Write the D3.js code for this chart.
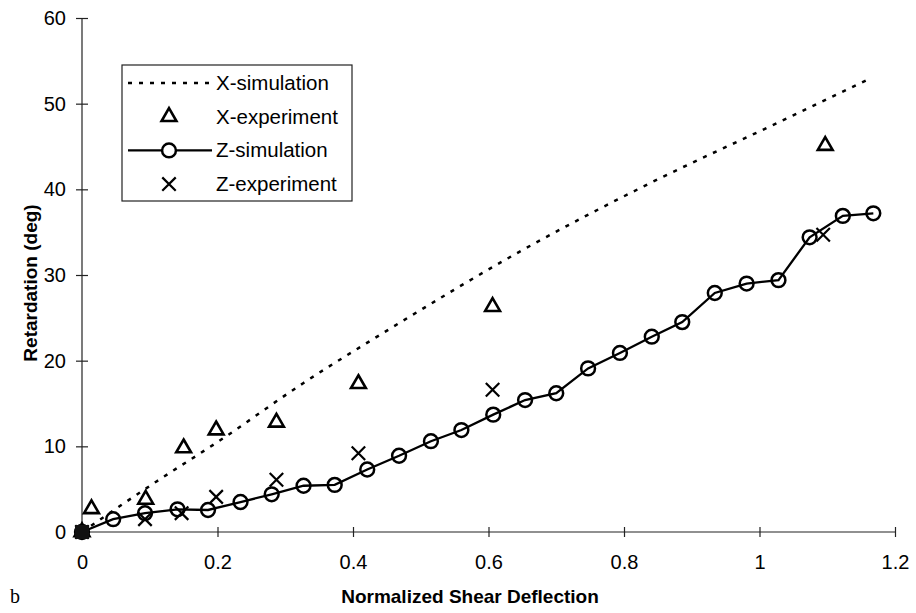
<!DOCTYPE html>
<html>
<head>
<meta charset="utf-8">
<script src="https://cdn.jsdelivr.net/npm/d3@7"></script>
<style>
  body { margin: 0; background: #fff; }
  text { font-family: "Liberation Sans", Arial, sans-serif; fill: #000; }
</style>
</head>
<body>
<div id="chart"></div>
<script>
// data
var xSimX = [0, 0.11, 0.2, 0.327, 0.452, 0.641, 0.843, 1.025, 1.165];
var xSimY = [0, 5.9, 10.5, 17.4, 23.6, 32.5, 40.9, 47.7, 53];

var xExpX = [0, 0.014, 0.094, 0.15, 0.198, 0.287, 0.408, 0.606, 1.097];
var xExpY = [0, 2.7, 3.8, 9.8, 11.9, 12.8, 17.3, 26.3, 45.1];

var zSimX = [0, 0.046, 0.093, 0.141, 0.186, 0.234, 0.28, 0.327, 0.373, 0.421, 0.468, 0.515, 0.56, 0.607,
             0.654, 0.7, 0.747, 0.794, 0.841, 0.886, 0.934, 0.981, 1.028, 1.074, 1.123, 1.168];
var zSimY = [0, 1.5, 2.2, 2.65, 2.57, 3.5, 4.4, 5.4, 5.5, 7.3, 8.9, 10.6, 11.9, 13.7,
             15.4, 16.2, 19.1, 20.9, 22.8, 24.5, 27.9, 29.0, 29.4, 34.4, 36.9, 37.2];

var zExpX = [0, 0.093, 0.147, 0.198, 0.287, 0.408, 0.606, 1.094];
var zExpY = [0, 1.5, 2.2, 4.1, 6.1, 9.2, 16.6, 34.7];

var xTicks = [0, 0.2, 0.4, 0.6, 0.8, 1, 1.2];
var yTicks = [0, 10, 20, 30, 40, 50, 60];
var legendNames = ["X-simulation", "X-experiment", "Z-simulation", "Z-experiment"];

var width = 916, height = 613;
var svg = d3.select("#chart").append("svg")
    .attr("width", width)
    .attr("height", height);

var x = d3.scaleLinear().domain([0, 1.2]).range([82, 895]);
var y = d3.scaleLinear().domain([0, 60]).range([532, 18]);

function pts(xs, ys) { return xs.map(function (v, i) { return [v, ys[i]]; }); }

// axes - ticks cross the line
var xAxis = svg.append("g")
    .attr("transform", "translate(0," + y(0) + ")")
    .call(d3.axisBottom(x).tickValues(xTicks).tickFormat(d3.format("")));
xAxis.selectAll(".tick line").attr("y1", -5).attr("y2", 5);
xAxis.selectAll(".tick text").attr("y", 23).style("font-size", "20px");
xAxis.select(".domain").attr("d", "M" + x(0) + ",0H" + x(1.2));

var yAxis = svg.append("g")
    .attr("transform", "translate(" + x(0) + ",0)")
    .call(d3.axisLeft(y).tickValues(yTicks));
yAxis.selectAll(".tick line").attr("x1", -6).attr("x2", 6);
yAxis.selectAll(".tick text").attr("x", -16).style("font-size", "20px");
yAxis.select(".domain").attr("d", "M0," + y(60) + "V" + y(0));
svg.selectAll(".domain, .tick line").attr("stroke", "#222").attr("stroke-width", 1.2);

// axis titles
svg.append("text")
    .attr("transform", "translate(37,283) rotate(-90)")
    .attr("text-anchor", "middle")
    .style("font-size", "19px").style("font-weight", "bold")
    .text("Retardation (deg)");
svg.append("text")
    .attr("x", 470).attr("y", 603)
    .attr("text-anchor", "middle")
    .style("font-size", "19px").style("font-weight", "bold")
    .text("Normalized Shear Deflection");
svg.append("text")
    .attr("x", 10).attr("y", 603)
    .style("font-family", "'Liberation Serif', serif").style("font-size", "20px")
    .text("b");

var line = d3.line().x(function (d) { return x(d[0]); }).y(function (d) { return y(d[1]); });

// X-simulation dotted
svg.append("path")
    .datum(pts(xSimX, xSimY))
    .attr("d", line.curve(d3.curveMonotoneX))
    .attr("fill", "none").attr("stroke", "#000")
    .attr("stroke-width", 2.5).attr("stroke-dasharray", "4,7");

// Z-simulation solid with circles
svg.append("path")
    .datum(pts(zSimX, zSimY))
    .attr("d", line.curve(d3.curveLinear))
    .attr("fill", "none").attr("stroke", "#000").attr("stroke-width", 2.3);

var circleSym = d3.symbol().type(d3.symbolCircle).size(150);
var triSym = d3.symbol().type(d3.symbolTriangle).size(95);
var crossSym = d3.symbol().type(d3.symbolTimes).size(120);

svg.append("g").selectAll("path")
    .data(pts(zSimX, zSimY))
    .enter().append("path")
    .attr("d", circleSym)
    .attr("transform", function (d) { return "translate(" + x(d[0]) + "," + y(d[1]) + ")"; })
    .attr("fill", "none").attr("stroke", "#000").attr("stroke-width", 2.5);

svg.append("g").selectAll("path")
    .data(pts(xExpX, xExpY))
    .enter().append("path")
    .attr("d", triSym)
    .attr("transform", function (d) { return "translate(" + x(d[0]) + "," + y(d[1]) + ")"; })
    .attr("fill", "none").attr("stroke", "#000").attr("stroke-width", 2.6);

svg.append("g").selectAll("path")
    .data(pts(zExpX, zExpY))
    .enter().append("path")
    .attr("d", crossSym)
    .attr("transform", function (d) { return "translate(" + x(d[0]) + "," + y(d[1]) + ")"; })
    .attr("fill", "none").attr("stroke", "#000").attr("stroke-width", 2.2);

// origin markers are piled into a dark square
svg.append("rect")
    .attr("x", x(0) - 7).attr("y", y(0) - 7)
    .attr("width", 14).attr("height", 14)
    .attr("fill", "#111");

// legend
var lg = svg.append("g").attr("transform", "translate(122,65)");
lg.append("rect")
    .attr("width", 230).attr("height", 136)
    .attr("fill", "#fff").attr("stroke", "#222").attr("stroke-width", 1.2);

var rows = lg.selectAll("g.row")
    .data(legendNames)
    .enter().append("g")
    .attr("class", "row")
    .attr("transform", function (d, i) { return "translate(0," + (18 + i * 33.7) + ")"; });

rows.append("text")
    .attr("x", 94).attr("y", 7)
    .style("font-size", "20.5px")
    .text(function (d) { return d; });

rows.filter(function (d, i) { return i === 0; }).append("line")
    .attr("x1", 6).attr("x2", 90).attr("y1", 0).attr("y2", 0)
    .attr("stroke", "#000").attr("stroke-width", 2.5).attr("stroke-dasharray", "4,7");
rows.filter(function (d, i) { return i === 1; }).append("path")
    .attr("d", triSym).attr("transform", "translate(47,0)")
    .attr("fill", "none").attr("stroke", "#000").attr("stroke-width", 2.6);
rows.filter(function (d, i) { return i === 2; }).append("line")
    .attr("x1", 6).attr("x2", 90).attr("y1", 0).attr("y2", 0)
    .attr("stroke", "#000").attr("stroke-width", 2.3);
rows.filter(function (d, i) { return i === 2; }).append("path")
    .attr("d", circleSym).attr("transform", "translate(47,0)")
    .attr("fill", "#fff").attr("stroke", "#000").attr("stroke-width", 2.5);
rows.filter(function (d, i) { return i === 3; }).append("path")
    .attr("d", crossSym).attr("transform", "translate(47,0)")
    .attr("fill", "none").attr("stroke", "#000").attr("stroke-width", 2.2);
</script>
</body>
</html>
